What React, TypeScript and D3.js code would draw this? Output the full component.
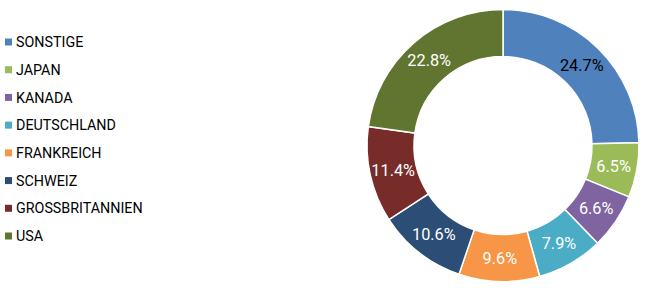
import React from "react";
import * as d3 from "d3";

const categories = ["SONSTIGE", "JAPAN", "KANADA", "DEUTSCHLAND", "FRANKREICH", "SCHWEIZ", "GROSSBRITANNIEN", "USA"];
const values = [24.7, 6.5, 6.6, 7.9, 9.6, 10.6, 11.4, 22.8];
const colors = ["#4F81BD", "#9BBB59", "#8064A2", "#4BACC6", "#F79646", "#2C4D75", "#772C2A", "#5F7530"];
const labelColors = ["#000000", "#ffffff", "#ffffff", "#ffffff", "#ffffff", "#ffffff", "#ffffff", "#ffffff"];

const W = 646;
const H = 291;
const cx = 503;
const cy = 145.5;
const outerR = 136;
const innerR = 89;

export default function App() {
  const data = categories.map((c, i) => ({ c, v: values[i], i }));
  const pie = d3.pie<any>().value((d) => d.v).sort(null);
  const arcs = pie(data);
  const arc = d3.arc<any>().innerRadius(innerR).outerRadius(outerR);
  const legendY = d3.scalePoint<string>().domain(categories).range([42, 236]);

  return (
    <svg width={W} height={H} style={{ position: "absolute", left: 0, top: 0, fontFamily: "Roboto, sans-serif" }}>
      <rect width={W} height={H} fill="#fff" />
      <g transform={`translate(${cx},${cy})`}>
        {arcs.map((a, i) => (
          <path key={i} d={arc(a) || ""} fill={colors[i]} stroke="#fff" strokeWidth={1.5} />
        ))}
        {arcs.map((a, i) => {
          const [x, y] = arc.centroid(a);
          return (
            <text key={"l" + i} x={x} y={y} dy="0.36em" textAnchor="middle" fontSize={16.3} fill={labelColors[i]}>
              {values[i].toFixed(1)}%
            </text>
          );
        })}
      </g>
      <g>
        {categories.map((c, i) => (
          <g key={c} transform={`translate(0,${legendY(c)})`}>
            <rect x={5} y={-3.5} width={7} height={7} fill={colors[i]} />
            <text x={16} y={0} dy="0.36em" fontSize={14.3} fill="#000">
              {c}
            </text>
          </g>
        ))}
      </g>
    </svg>
  );
}
